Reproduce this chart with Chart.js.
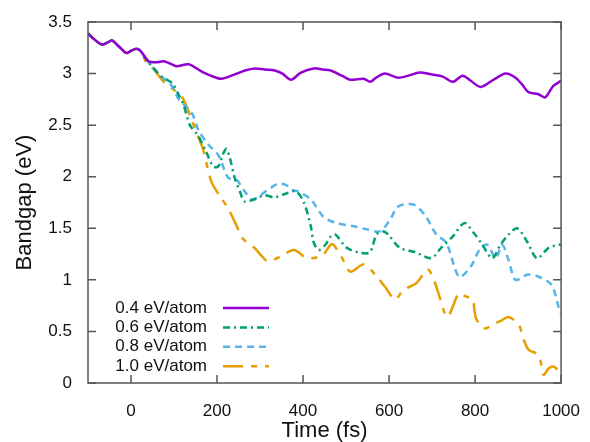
<!DOCTYPE html>
<html>
<head>
<meta charset="utf-8">
<script src="https://cdn.jsdelivr.net/npm/chart.js@4"></script>
<style>
  html, body { margin: 0; padding: 0; background: #fff; }
  #wrap { width: 590px; height: 442px; position: relative; }
</style>
</head>
<body>
<div id="wrap"><canvas id="graph1"></canvas></div>
<script>
var labels = ["0.4 eV/atom", "0.6 eV/atom", "0.8 eV/atom", "1.0 eV/atom"];
var xTicks = [0, 200, 400, 600, 800, 1000];

// shared start of all runs
var tStart = [-100, -85, -67, -55, -44, -30, -15, -9, 0, 12, 22];
var vStart = [3.39, 3.33, 3.28, 3.30, 3.32, 3.27, 3.21, 3.20, 3.22, 3.24, 3.22];

var t04 = [41, 60, 76, 95, 106, 134, 160, 185, 210, 240, 265, 288, 310, 334, 352, 372, 395, 425, 445, 464, 490, 510, 541, 556, 570, 590, 621, 645, 671, 700, 725, 748, 771, 790, 813, 843, 871, 894, 910, 924, 947, 963, 982, 1000];
var v04 = [3.12, 3.11, 3.12, 3.09, 3.07, 3.09, 3.03, 2.98, 2.95, 2.99, 3.03, 3.05, 3.04, 3.03, 3.00, 2.94, 3.01, 3.05, 3.04, 3.03, 2.98, 2.94, 2.95, 2.92, 2.96, 3.00, 2.96, 2.98, 3.01, 2.99, 2.97, 2.92, 2.98, 2.93, 2.87, 2.94, 3.00, 2.96, 2.89, 2.82, 2.80, 2.77, 2.88, 2.93];

var t06 = [37, 55, 71, 95, 110, 122, 137, 157, 175, 191, 203, 214, 222, 230, 241, 253, 264, 287, 310, 333, 356, 383, 402, 418, 425, 437, 452, 464, 475, 502, 537, 556, 571, 587, 598, 625, 660, 698, 721, 748, 775, 798, 817, 840, 859, 878, 898, 921, 944, 971, 994, 1000];
var v06 = [3.13, 3.04, 2.97, 2.91, 2.80, 2.70, 2.50, 2.39, 2.24, 2.10, 2.10, 2.22, 2.27, 2.18, 1.99, 1.86, 1.76, 1.78, 1.82, 1.80, 1.83, 1.86, 1.75, 1.52, 1.36, 1.29, 1.34, 1.42, 1.44, 1.31, 1.26, 1.27, 1.44, 1.47, 1.44, 1.31, 1.27, 1.21, 1.31, 1.42, 1.55, 1.45, 1.34, 1.21, 1.34, 1.44, 1.50, 1.37, 1.21, 1.31, 1.34, 1.34];

var t08 = [37, 55, 71, 95, 111, 141, 157, 180, 203, 226, 245, 264, 283, 314, 341, 360, 375, 387, 418, 448, 479, 518, 548, 579, 602, 621, 656, 683, 710, 733, 763, 790, 813, 829, 848, 863, 878, 894, 921, 948, 978, 994, 1000];
var v08 = [3.13, 3.04, 2.97, 2.88, 2.75, 2.62, 2.45, 2.31, 2.21, 1.99, 1.97, 1.86, 1.78, 1.86, 1.93, 1.92, 1.87, 1.86, 1.78, 1.61, 1.55, 1.52, 1.49, 1.47, 1.58, 1.71, 1.73, 1.63, 1.44, 1.36, 1.03, 1.13, 1.31, 1.34, 1.21, 1.34, 1.19, 1.00, 1.05, 1.03, 0.95, 0.74, 0.67];

var t10 = [37, 53, 76, 103, 122, 140, 157, 168, 187, 207, 226, 245, 260, 287, 302, 318, 349, 379, 410, 445, 464, 471, 491, 510, 541, 568, 591, 614, 633, 664, 690, 706, 717, 729, 737, 748, 763, 778, 794, 802, 821, 848, 863, 878, 902, 913, 925, 948, 959, 971, 982, 994, 1000];
var v10 = [3.10, 3.04, 2.92, 2.83, 2.75, 2.56, 2.38, 2.26, 1.95, 1.81, 1.69, 1.53, 1.40, 1.31, 1.24, 1.18, 1.23, 1.29, 1.21, 1.24, 1.34, 1.34, 1.21, 1.08, 1.15, 1.05, 0.93, 0.81, 0.90, 0.97, 1.10, 0.98, 0.84, 0.68, 0.64, 0.74, 0.87, 0.84, 0.81, 0.63, 0.53, 0.58, 0.61, 0.64, 0.56, 0.42, 0.32, 0.27, 0.08, 0.14, 0.16, 0.13, 0.20];

function pts(ts, vs) {
  var t = tStart.concat(ts), v = vStart.concat(vs);
  return t.map(function (x, i) { return {x: x, y: v[i]}; });
}

Chart.defaults.font.family = "'Liberation Sans', Arial, sans-serif";
Chart.defaults.color = "#111";

var frame = {
  id: "frame",
  afterDraw: function (chart) {
    var ctx = chart.ctx, a = chart.chartArea, x = chart.scales.x, y = chart.scales.y;
    ctx.save();
    ctx.strokeStyle = "#555";
    ctx.lineWidth = 1.5;
    ctx.strokeRect(a.left, a.top, a.right - a.left, a.bottom - a.top);
    ctx.beginPath();
    x.ticks.forEach(function (t) {
      var px = x.getPixelForValue(t.value);
      ctx.moveTo(px, a.bottom); ctx.lineTo(px, a.bottom - 8);
      ctx.moveTo(px, a.top); ctx.lineTo(px, a.top + 8);
    });
    y.ticks.forEach(function (t) {
      var py = y.getPixelForValue(t.value);
      ctx.moveTo(a.left, py); ctx.lineTo(a.left + 8, py);
      ctx.moveTo(a.right, py); ctx.lineTo(a.right - 8, py);
    });
    ctx.stroke();

    // legend inside the plot, text right-aligned, sample to the right
    ctx.font = "17px 'Liberation Sans', Arial, sans-serif";
    ctx.textAlign = "right";
    ctx.textBaseline = "middle";
    chart.data.datasets.forEach(function (ds, i) {
      var ly = a.bottom - 75 + i * 19.4;
      ctx.fillStyle = "#111";
      ctx.fillText(ds.label, a.left + 119, ly);
      ctx.beginPath();
      ctx.strokeStyle = ds.borderColor;
      ctx.lineWidth = ds.borderWidth;
      ctx.setLineDash(ds.borderDash || []);
      ctx.moveTo(a.left + 135, ly);
      ctx.lineTo(a.left + 181, ly);
      ctx.stroke();
      ctx.setLineDash([]);
    });
    ctx.restore();
  }
};

function plain(v) { return String(Math.round(v * 10) / 10); }

var graph1 = new Chart("graph1", {
  type: "line",
  data: {
    datasets: [{
      label: labels[0],
      borderColor: "#9400D3",
      borderWidth: 2.5,
      data: pts(t04, v04)
    }, {
      label: labels[1],
      borderColor: "#009E73",
      borderWidth: 2.5,
      borderDash: [7, 4, 2, 4],
      data: pts(t06, v06)
    }, {
      label: labels[2],
      borderColor: "#56B4E9",
      borderWidth: 2.5,
      borderDash: [7, 5],
      data: pts(t08, v08)
    }, {
      label: labels[3],
      borderColor: "#E69F00",
      borderWidth: 2.5,
      borderDash: [20, 8, 6, 8],
      data: pts(t10, v10)
    }]
  },
  options: {
    responsive: true,
    maintainAspectRatio: false,
    animation: false,
    layout: { padding: { left: 0, top: 22, right: 22, bottom: 0 } },
    elements: { point: { radius: 0 }, line: { tension: 0.3, fill: false } },
    plugins: { legend: { display: false }, tooltip: { enabled: false } },
    scales: {
      x: {
        type: "linear",
        min: -100,
        max: 1000,
        grid: { display: false },
        border: { display: false },
        afterBuildTicks: function (s) { s.ticks = xTicks.map(function (v) { return {value: v}; }); },
        afterFit: function (s) { s.height = 59; },
        ticks: { font: { size: 17 }, padding: 10, maxRotation: 0, color: "#111", callback: plain },
        title: { display: true, text: "Time (fs)", font: { size: 22, lineHeight: 1 }, padding: { top: 0, bottom: 0 }, color: "#111" }
      },
      y: {
        min: 0,
        max: 3.5,
        grid: { display: false },
        border: { display: false },
        afterFit: function (s) { s.width = 88; },
        ticks: { stepSize: 0.5, font: { size: 17 }, padding: 8, color: "#111", callback: plain },
        title: { display: true, text: "Bandgap (eV)", font: { size: 22, lineHeight: 1 }, padding: { top: 14, bottom: 0 }, color: "#111" }
      }
    }
  },
  plugins: [frame]
});
</script>
</body>
</html>
